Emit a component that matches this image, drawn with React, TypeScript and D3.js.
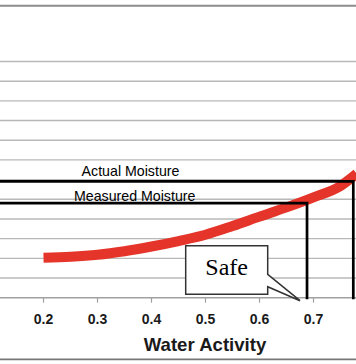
import React from "react";
import * as d3 from "d3";

const waterActivity = [0.2, 0.25, 0.3, 0.35, 0.4, 0.45, 0.5, 0.55, 0.6, 0.65, 0.7, 0.75, 0.78];
const moisture = [2.03, 2.08, 2.18, 2.36, 2.6, 2.88, 3.2, 3.64, 4.12, 4.59, 5.1, 5.68, 6.3];
const xTicks = [0.2, 0.3, 0.4, 0.5, 0.6, 0.7];
const yGrid = [0, 1, 2, 3, 4, 5, 6, 7, 8, 9, 10, 11, 12];
const actualMoisture = { aw: 0.7737, m: 5.91, label: "Actual Moisture" };
const measuredMoisture = { aw: 0.688, m: 4.8, label: "Measured Moisture" };
const xTitle = "Water Activity";
const calloutText = "Safe";

export default function App() {
  const W = 356, H = 364;
  const x = d3.scaleLinear().domain([0.2, 0.7]).range([43.5, 313.5]);
  const y = d3.scaleLinear().domain([0, 12]).range([297.7, 61.5]);
  const pts: [number, number][] = waterActivity.map((a, i) => [a, moisture[i]]);
  const line = d3
    .line<[number, number]>()
    .x((d) => x(d[0]))
    .y((d) => y(d[1]))
    .curve(d3.curveMonotoneX);
  const y0 = y(0);
  const sans = "'Liberation Sans', Arial, sans-serif";

  // callout geometry
  const bx0 = 185.7, bx1 = 267.7, by0 = 245.7, by1 = 294.3;
  const tipX = x(measuredMoisture.aw) - 7, tipY = y0 + 3;
  const calloutPath = `M${bx0},${by0} H${bx1} V274.3 L${tipX},${tipY} L${bx1},286.7 V${by1} H${bx0} Z`;

  return (
    <svg
      width={W}
      height={H}
      style={{ position: "absolute", left: 0, top: 0, background: "#fff" }}
    >
      <rect x={0} y={0} width={W} height={H} fill="#fff" />
      <line x1={0} x2={W} y1={5.8} y2={5.8} stroke="#8c8c8c" strokeWidth={2} />
      {yGrid.map((g) => (
        <line
          key={g}
          x1={0}
          x2={W}
          y1={y(g)}
          y2={y(g)}
          stroke={g === 0 ? "#a0a0a0" : "#b8b8b8"}
          strokeWidth={1.4}
        />
      ))}
      {xTicks.map((t) => (
        <g key={t}>
          <line x1={x(t)} x2={x(t)} y1={y0} y2={y0 + 5} stroke="#a0a0a0" strokeWidth={1.2} />
          <text
            x={x(t)}
            y={324.3}
            textAnchor="middle"
            fontFamily={sans}
            fontWeight="bold"
            fontSize={14}
            fill="#1a1a1a"
          >
            {t.toFixed(1)}
          </text>
        </g>
      ))}
      <text
        x={205}
        y={351}
        textAnchor="middle"
        fontFamily={sans}
        fontWeight="bold"
        fontSize={18.6}
        fill="#1a1a1a"
      >
        {xTitle}
      </text>
      <line x1={0} x2={W} y1={359.3} y2={359.3} stroke="#777" strokeWidth={1.8} />

      <path d={line(pts) || ""} fill="none" stroke="#e5352a" strokeWidth={10} strokeLinecap="butt" />

      {[actualMoisture, measuredMoisture].map((m) => (
        <path
          key={m.label}
          d={`M0,${y(m.m)} H${x(m.aw)} V${y0 + 1.6}`}
          fill="none"
          stroke="#000"
          strokeWidth={2.7}
        />
      ))}
      <text x={130.5} y={176} textAnchor="middle" fontFamily={sans} fontSize={14.2} fill="#000">
        {actualMoisture.label}
      </text>
      <text x={134.7} y={201.2} textAnchor="middle" fontFamily={sans} fontSize={14.2} fill="#000">
        {measuredMoisture.label}
      </text>

      <path d={calloutPath} fill="#fff" stroke="#333" strokeWidth={1.5} strokeLinejoin="miter" />
      <text
        x={226.7}
        y={275}
        textAnchor="middle"
        fontFamily="'Liberation Serif', 'Times New Roman', serif"
        fontSize={24}
        fill="#000"
      >
        {calloutText}
      </text>
    </svg>
  );
}
